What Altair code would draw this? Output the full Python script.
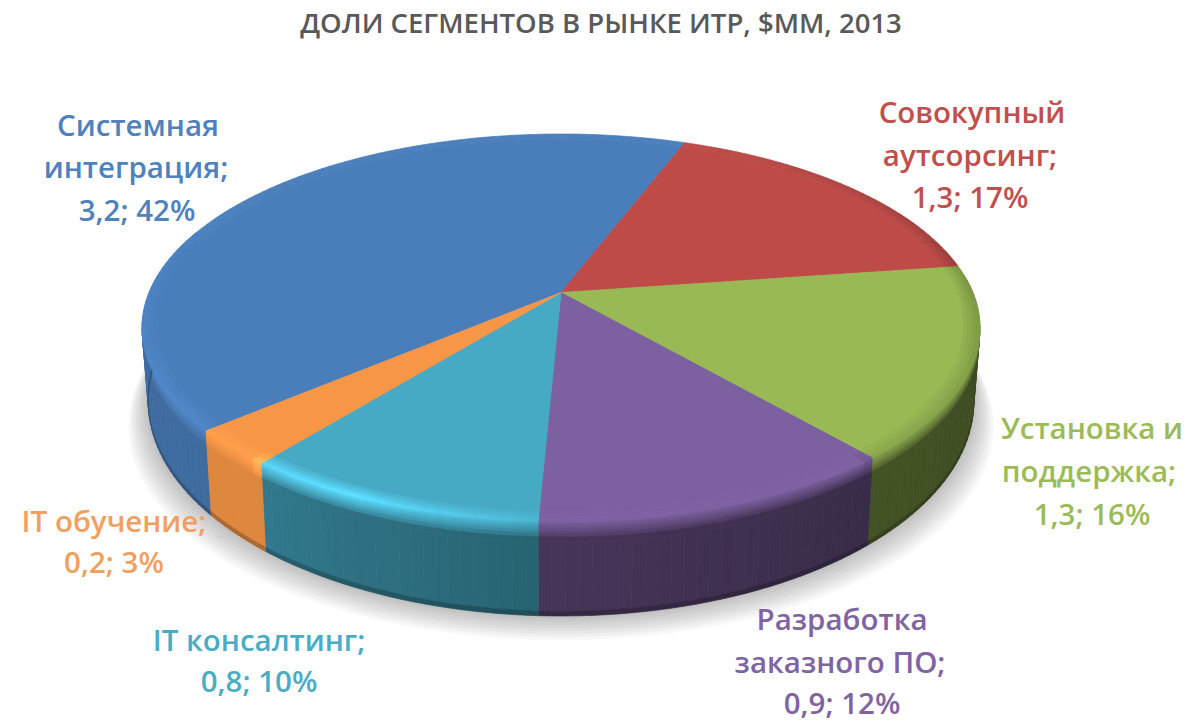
import math
import numpy as np
import pandas as pd
import altair as alt

# ---- data ----
SEGMENTS = ["Системная интеграция", "Совокупный аутсорсинг", "Установка и поддержка",
            "Разработка заказного ПО", "IT консалтинг", "IT обучение"]
VALUES = [3.2, 1.3, 1.3, 0.9, 0.8, 0.2]
SHARES = [42, 17, 16, 12, 10, 3]
TITLE = "ДОЛИ СЕГМЕНТОВ  В РЫНКЕ ИТР, $ММ, 2013"
LABEL_LINES = [["Системная", "интеграция;", "3,2; 42%"],
               ["Совокупный", "аутсорсинг;", "1,3; 17%"],
               ["Установка и", "поддержка;", "1,3; 16%"],
               ["Разработка", "заказного  ПО;", "0,9; 12%"],
               ["IT консалтинг;", "0,8; 10%"],
               ["IT обучение;", "0,2; 3%"]]

# ---- style / layout ----
COLORS = ["#4a7ebb", "#be4b48", "#98b954", "#7d60a0", "#46aac5", "#f79646"]
TEXT_COLORS = ["#4f81bd", "#c0504d", "#9bbb59", "#8064a2", "#4bacc6", "#f0a060"]
SIDE_LIGHT = [(0.86, 0.86), (0.4, 0.4), (0.38, 0.45), (0.46, 0.56), (0.58, 0.72), (0.9, 0.9)]
HL_PHI = [20, 80, 100, 140, 141, 182, 183, 205, 220, 221, 231, 232, 290, 320, 380]
HL_VAL = [1.0, 0.82, 0.85, 0.92, 1.02, 1.02, 1.08, 1.32, 1.25, 1.06, 1.06, 1.08, 1.03, 1.0, 1.0]
LABEL_POS = [[(138, 127), (136, 169), (137, 212)],
             [(972, 114), (970, 157), (970, 199)],
             [(1092, 430), (1089, 473), (1092, 516)],
             [(842, 621), (840, 664), (842, 705)],
             [(259, 642), (259, 683)],
             [(114, 523), (114, 564)]]
CX, CY, RX, RY, K = 561.0, 328.0, 419.0, 194.0, 0.183
START = 229.4
TOP_PAD = 40
ORIGIN_X, ORIGIN_Y = 8, 8 + TOP_PAD


def project(phi_deg, r=1.0):
    """Perspective view of a point of the pie disc, phi clockwise from the top."""
    a = math.radians(phi_deg)
    u, v = r * math.sin(a), r * math.cos(a)
    d = 1 + K * v
    X = u * math.sqrt(1 - K * K) / d
    Y = (v + K) / d
    return X, Y


def pix(phi, r=1.0, s=0.0):
    X, Y = project(phi, r)
    depth = 74 - 20 * Y
    shrink = 1 - 0.015 * s
    return [CX + RX * X * shrink, CY - RY * Y + depth * s]


def shade(col, m):
    c = [int(col[i:i + 2], 16) for i in (1, 3, 5)]
    return "#%02x%02x%02x" % tuple(int(min(255, max(0, x * m))) for x in c)


def feature(ring, color):
    return {"type": "Feature", "properties": {"color": color},
            "geometry": {"type": "Polygon", "coordinates": [ring + [ring[0]]]}}


total = sum(SHARES)
edges = np.cumsum([0] + SHARES) / total * 360 + START

side_f, top_f, rim_f = [], [], []
ROWS = [0, .03, .06, .09, .12, .16, .22, .95, 1]
RINGS = [.962, .972, .982, .991, 1.0]
for i, col in enumerate(COLORS):
    a0, a1 = edges[i], edges[i + 1]
    n = max(3, int((a1 - a0) / 1.5))
    phis = np.linspace(a0, a1, n + 1)
    # wedge of the top face
    top_f.append(feature([pix(0, 0.0)] + [pix(p, RINGS[0]) for p in phis], col))
    for p0, p1 in zip(phis[:-1], phis[1:]):
        pm = (p0 + p1) / 2
        pw = pm % 360
        hl = float(np.interp(pw if pw >= 20 else pw + 360, HL_PHI, HL_VAL))
        for j in range(len(RINGS) - 1):
            t = (j + 1) / (len(RINGS) - 1)
            rim_f.append(feature([pix(p0, RINGS[j]), pix(p1, RINGS[j]), pix(p1, RINGS[j + 1]),
                                  pix(p0, RINGS[j + 1])], shade(col, 1 + (hl - 1) * t)))
        if 85 <= pw <= 290:
            f = (pm - a0) / (a1 - a0)
            b = SIDE_LIGHT[i][0] + (SIDE_LIGHT[i][1] - SIDE_LIGHT[i][0]) * f
            for j in range(len(ROWS) - 1):
                s0, s1 = ROWS[j], ROWS[j + 1]
                if s0 < .22:
                    t = s1 / .22
                    m = hl + (b - hl) * t
                elif s0 >= .95:
                    m = b * .78
                else:
                    m = b
                side_f.append(feature([pix(p0, 1, s0), pix(p1, 1, s0), pix(p1, 1, s1),
                                       pix(p0, 1, s1)], shade(col, m)))

shadow_f = []
for k in range(3, 27, 3):
    ring = [[x + (x - CX) * 0.002 * k, y + k] for x, y in
            (pix(p, 1, 1) for p in np.linspace(85, 290, 80))]
    shadow_f.append(feature(ring, "#000000"))

PROJ = alt.Projection(type="identity", scale=1, translate=[-ORIGIN_X, -ORIGIN_Y])


def geo(features, **kw):
    data = alt.InlineData(values={"type": "FeatureCollection", "features": features},
                          format=alt.DataFormat(type="json", property="features"))
    return alt.Chart(data).mark_geoshape(**kw).encode(
        fill=alt.Color("properties.color:N", scale=None),
        stroke=alt.Color("properties.color:N", scale=None)).project(**PROJ.to_dict())


shadow = geo(shadow_f, opacity=0.03, strokeWidth=0)
sides = geo(side_f, strokeWidth=0.7)
tops = geo(top_f, strokeWidth=0.7)
rims = geo(rim_f, strokeWidth=0.7)

rows = []
for i, lines in enumerate(LABEL_LINES):
    for line, (x, y) in zip(lines, LABEL_POS[i]):
        rows.append({"text": line, "x": x - ORIGIN_X, "y": y - ORIGIN_Y, "color": TEXT_COLORS[i],
                     "segment": SEGMENTS[i], "value": VALUES[i], "share": SHARES[i]})
labels = alt.Chart(pd.DataFrame(rows)).mark_text(
    font="Open Sans", fontSize=29.5, fontWeight=600, align="center", baseline="middle"
).encode(x=alt.X("x:Q", scale=None), y=alt.Y("y:Q", scale=None),
         text="text:N", color=alt.Color("color:N", scale=None))

leader = alt.Chart(pd.DataFrame({"x": [210], "x2": [232], "y": [529 - TOP_PAD]})).mark_rule(
    color="#c8c8c8", strokeWidth=1
).encode(x=alt.X("x:Q", scale=None), x2="x2:Q", y=alt.Y("y:Q", scale=None))

chart = alt.layer(
    shadow, sides, tops, rims, leader, labels
).properties(
    width=1176, height=714 - TOP_PAD,
    padding={"left": 0, "top": TOP_PAD, "right": 0, "bottom": 0},
    autosize=alt.AutoSizeParams(type="none"),
    background="white",
    title=alt.TitleParams(TITLE, font="Open Sans", fontSize=27.5, fontWeight=600, color="#595959",
                          anchor="middle", dx=5, offset=10)
).configure_view(stroke=None)

chart.save("out.html", embed_options={"renderer": "svg", "actions": False})
